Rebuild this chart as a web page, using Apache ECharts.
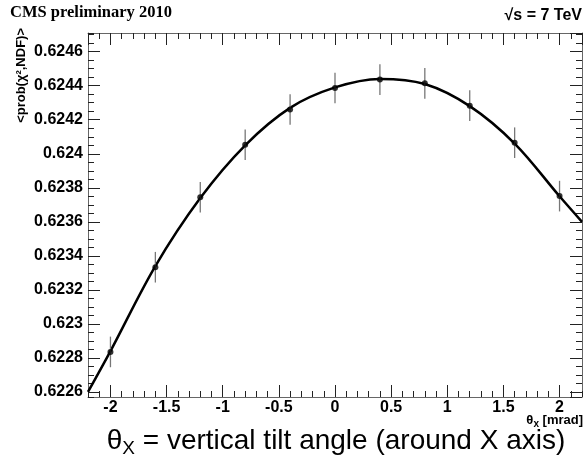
<!DOCTYPE html>
<html><head><meta charset="utf-8">
<script src="https://cdn.jsdelivr.net/npm/echarts@6/dist/echarts.min.js"></script>
<style>html,body{margin:0;padding:0;background:#fff}#c{width:587px;height:462px}</style>
</head><body><div id="c"></div>
<script>
// measured points (theta_x in mrad, <prob(chi2,NDF)>)
const thetaX = [-2, -1.6, -1.2, -0.8, -0.4, 0, 0.4, 0.8, 1.2, 1.6, 2];
const meanProb = [0.622835, 0.623333, 0.623744, 0.624053, 0.624260, 0.624387, 0.624436, 0.624414, 0.624283, 0.624065, 0.623751];
const probErr = [0.00009, 0.00009, 0.00009, 0.00009, 0.00009, 0.00009, 0.00009, 0.00009, 0.00009, 0.00009, 0.00009];
// fit curve
const fitX = [-2.2, -2, -1.6, -1.2, -0.8, -0.4, 0, 0.4, 0.8, 1.2, 1.6, 2, 2.2];
const fitY = [0.62260, 0.62284, 0.62334, 0.62374, 0.62405, 0.62427, 0.62439, 0.62444, 0.62441, 0.62428, 0.62406, 0.62375, 0.62360];
const xRange = [-2.2, 2.2];
const yRange = [0.62257, 0.62471];

const chart = echarts.init(document.getElementById('c'));
const gridBox = {left: 88, top: 33, right: 5, bottom: 65, outerBoundsMode: 'none'};
const lineCol = '#666', tickCol = '#222';
const FONT = 'Liberation Sans, Arial, sans-serif';

function xAxisCfg(gi, pos, major) {
  const a = {
    type: 'value', gridIndex: gi, position: pos, min: xRange[0], max: xRange[1],
    axisLine: {show: major, onZero: false, lineStyle: {color: lineCol, width: 1}},
    axisTick: {show: true, inside: true, length: major ? 12 : 6, lineStyle: {color: tickCol, width: 1}},
    splitLine: {show: false},
    axisLabel: {show: major && pos === 'bottom', showMinLabel: false, showMaxLabel: false, margin: 3,
      color: '#000', fontFamily: FONT, fontWeight: 'bold', fontSize: 16,
      formatter: v => String(parseFloat(v.toFixed(2)))}
  };
  if (major) a.splitNumber = 9; else a.interval = 0.1;
  return a;
}
function yAxisCfg(gi, pos, major) {
  return {
    type: 'value', gridIndex: gi, position: pos, min: yRange[0], max: yRange[1],
    splitNumber: major ? 10 : 43, scale: true,
    axisLine: {show: major, onZero: false, lineStyle: {color: lineCol, width: 1}},
    axisTick: {show: true, inside: true, length: major ? 12 : 6, lineStyle: {color: tickCol, width: 1}},
    splitLine: {show: false},
    axisLabel: {show: major && pos === 'left', showMinLabel: false, showMaxLabel: false, margin: 5,
      color: '#000', fontFamily: FONT, fontWeight: 'bold', fontSize: 16,
      formatter: v => String(parseFloat(v.toFixed(5)))}
  };
}

chart.setOption({
  animation: false,
  backgroundColor: '#fff',
  grid: [0, 1, 2, 3].map(() => Object.assign({}, gridBox)),
  xAxis: [xAxisCfg(0, 'bottom', true), xAxisCfg(1, 'top', true), xAxisCfg(2, 'bottom', false), xAxisCfg(3, 'top', false)],
  yAxis: [yAxisCfg(0, 'left', true), yAxisCfg(1, 'right', true), yAxisCfg(2, 'left', false), yAxisCfg(3, 'right', false)],
  series: [
    {
      type: 'line', xAxisIndex: 0, yAxisIndex: 0, smooth: 0.35, showSymbol: false, z: 2,
      lineStyle: {color: '#000', width: 2.5},
      data: fitX.map((x, i) => [x, fitY[i]])
    },
    {
      type: 'custom', xAxisIndex: 0, yAxisIndex: 0, z: 3,
      encode: {x: 0, y: 1},
      data: thetaX.map((x, i) => [x, meanProb[i], probErr[i]]),
      renderItem: (params, api) => {
        const x = api.value(0), y = api.value(1), e = api.value(2);
        const p1 = api.coord([x, y - e]), p2 = api.coord([x, y + e]);
        return {type: 'line', shape: {x1: p1[0], y1: p1[1], x2: p2[0], y2: p2[1]},
          style: {stroke: '#777', lineWidth: 1.3}};
      }
    },
    {
      type: 'scatter', xAxisIndex: 0, yAxisIndex: 0, z: 4, symbol: 'circle', symbolSize: 6,
      itemStyle: {color: '#000'},
      data: thetaX.map((x, i) => [x, meanProb[i]])
    }
  ],
  graphic: [
    {type: 'text', x: 10, y: 13, style: {text: 'CMS preliminary 2010', fontFamily: 'Liberation Serif, Times New Roman, serif', fontWeight: 'bold', fontSize: 16.5, fill: '#000', align: 'left', verticalAlign: 'middle'}},
    {type: 'text', x: 582, y: 16, style: {text: '√s = 7 TeV', fontFamily: FONT, fontWeight: 'bold', fontSize: 16, fill: '#000', align: 'right', verticalAlign: 'middle'}},
    {type: 'text', x: 21, y: 28, rotation: Math.PI / 2, style: {text: '<prob(χ²,NDF)>', fontFamily: FONT, fontWeight: 'bold', fontSize: 13, fill: '#000', align: 'right', verticalAlign: 'middle'}},
    {type: 'text', x: 583, y: 420, style: {text: '{a|θ}{b|x}{a| [mrad]}', align: 'right', verticalAlign: 'middle',
      rich: {a: {fontFamily: FONT, fontWeight: 'bold', fontSize: 13, fill: '#000'},
             b: {fontFamily: FONT, fontWeight: 'bold', fontSize: 10, fill: '#000', padding: [9, 0, 0, 0]}}}},
    {type: 'text', x: 336, y: 441, style: {text: '{a|θ}{b|X}{a| = vertical tilt angle (around X axis)}', align: 'center', verticalAlign: 'middle',
      rich: {a: {fontFamily: FONT, fontSize: 28, fill: '#000'},
             b: {fontFamily: FONT, fontSize: 19, fill: '#000', padding: [16, 0, 0, 0]}}}}
  ]
});
</script></body></html>
